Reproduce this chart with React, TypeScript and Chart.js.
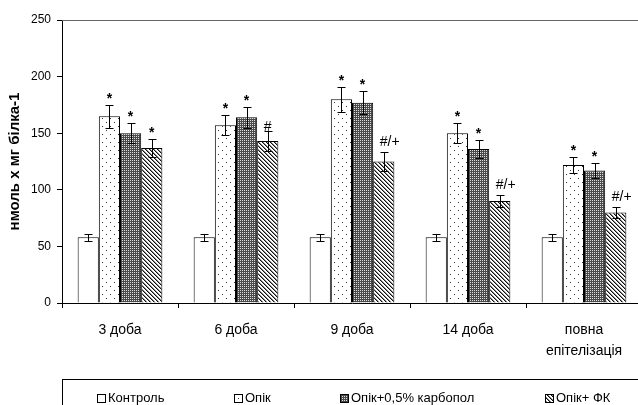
import React, { useEffect, useRef } from 'react';
import { Chart, registerables } from 'chart.js';

Chart.register(...registerables);

// Time points
const CATEGORIES: (string | string[])[] = ['3 доба', '6 доба', '9 доба', '14 доба', ['повна', 'епітелізація']];

// Means, нмоль х мг білка-1
const CONTROL = [58, 58, 58, 58, 58];
const OPIK = [165, 157, 180, 150, 122];
const OPIK_CARBOPOL = [150, 164, 177, 136, 117];
const OPIK_FK = [137, 143, 125, 90, 80];

// Standard errors
const CONTROL_ERR = [3, 3, 3, 3, 3];
const OPIK_ERR = [10, 9, 11, 9, 7];
const OPIK_CARBOPOL_ERR = [9, 9, 10, 8, 7];
const OPIK_FK_ERR = [8, 9, 8, 5, 5];

// Significance marks above the bars
const CONTROL_MARKS = ['', '', '', '', ''];
const OPIK_MARKS = ['*', '*', '*', '*', '*'];
const OPIK_CARBOPOL_MARKS = ['*', '*', '*', '*', '*'];
const OPIK_FK_MARKS = ['*', '#', '#/+', '#/+', '#/+'];

const SERIES_LABELS = ['Контроль', 'Опік', 'Опік+0,5% карбопол', 'Опік+ ФК'];

const Y_TITLE = 'нмоль х мг білка-1';
const Y_MIN = 0;
const Y_MAX = 250;
const Y_STEP = 50;

const FONT = '"Liberation Sans", Arial, sans-serif';

// Legend slot positions inside the framed legend row
const LEGEND_X = [97, 234, 340, 545];
const LEGEND_Y = 398;

const MARK_STYLE: Record<string, { font: string; lift: number; dx: number }> = {
  '*': { font: `bold 14px ${FONT}`, lift: 3, dx: 0 },
  '#': { font: `14px ${FONT}`, lift: 1, dx: 0 },
  '#/+': { font: `14px ${FONT}`, lift: 7, dx: 6 },
};

function tile(w: number, h: number, paint: (g: CanvasRenderingContext2D) => void) {
  const c = document.createElement('canvas');
  c.width = w;
  c.height = h;
  const g = c.getContext('2d')!;
  paint(g);
  return c;
}

export default function App() {
  const canvasRef = useRef<HTMLCanvasElement | null>(null);

  useEffect(() => {
    const canvas = canvasRef.current!;
    const ctx = canvas.getContext('2d')!;

    const dotted = ctx.createPattern(
      tile(8, 8, (g) => {
        g.fillStyle = '#fff';
        g.fillRect(0, 0, 8, 8);
        g.fillStyle = '#333';
        g.fillRect(2, 2, 1, 1);
        g.fillRect(6, 6, 1, 1);
      }),
      'repeat'
    )!;
    const stipple = ctx.createPattern(
      tile(2, 2, (g) => {
        g.fillStyle = '#4a4a4a';
        g.fillRect(0, 0, 2, 2);
        g.fillStyle = '#e0e0e0';
        g.fillRect(0, 0, 1, 1);
      }),
      'repeat'
    )!;
    const hatch = ctx.createPattern(
      tile(4, 4, (g) => {
        g.fillStyle = '#fff';
        g.fillRect(0, 0, 4, 4);
        for (let i = 0; i < 4; i++) {
          g.fillStyle = '#111';
          g.fillRect(i, i, 1, 1);
          g.fillStyle = '#888';
          g.fillRect((i + 1) % 4, i, 1, 1);
        }
      }),
      'repeat'
    )!;

    const fills = ['#ffffff', dotted, stipple, hatch];
    const values = [CONTROL, OPIK, OPIK_CARBOPOL, OPIK_FK];
    const errors = [CONTROL_ERR, OPIK_ERR, OPIK_CARBOPOL_ERR, OPIK_FK_ERR];
    const marks = [CONTROL_MARKS, OPIK_MARKS, OPIK_CARBOPOL_MARKS, OPIK_FK_MARKS];

    const errorBars = {
      id: 'errorBars',
      afterDatasetsDraw(chart: any) {
        const c = chart.ctx;
        const y = chart.scales.y;
        c.save();
        c.strokeStyle = '#000';
        c.lineWidth = 1;
        chart.data.datasets.forEach((ds: any, i: number) => {
          const meta = chart.getDatasetMeta(i);
          meta.data.forEach((el: any, j: number) => {
            const v = values[i][j];
            const e = errors[i][j];
            const x = Math.round(el.x) + 0.5;
            const top = Math.round(y.getPixelForValue(v + e)) + 0.5;
            const bot = Math.round(y.getPixelForValue(v - e)) + 0.5;
            c.beginPath();
            c.moveTo(x, top);
            c.lineTo(x, bot);
            c.moveTo(x - 4, top);
            c.lineTo(x + 4, top);
            c.moveTo(x - 4, bot);
            c.lineTo(x + 4, bot);
            c.stroke();

            const m = marks[i][j];
            if (m) {
              const st = MARK_STYLE[m];
              c.fillStyle = '#000';
              c.font = st.font;
              c.textAlign = 'center';
              c.textBaseline = 'alphabetic';
              c.fillText(m, el.x + st.dx, top - st.lift);
            }
          });
        });
        c.restore();
      },
    };

    const frame = {
      id: 'frame',
      afterDraw(chart: any) {
        const c = chart.ctx;
        const a = chart.chartArea;
        c.save();
        // top edge of the plot
        c.strokeStyle = '#666';
        c.lineWidth = 1;
        c.beginPath();
        c.moveTo(a.left, Math.round(a.top) + 0.5);
        c.lineTo(a.right, Math.round(a.top) + 0.5);
        c.stroke();

        // legend frame
        c.strokeStyle = '#000';
        c.strokeRect(62.5, 379.5, 700, 100);

        c.font = `13px ${FONT}`;
        c.textAlign = 'left';
        c.textBaseline = 'middle';
        chart.data.datasets.forEach((ds: any, i: number) => {
          const bx = LEGEND_X[i];
          const by = LEGEND_Y - 4;
          c.fillStyle = ds.backgroundColor;
          c.fillRect(bx, by, 8, 8);
          c.strokeStyle = '#000';
          c.strokeRect(bx + 0.5, by + 0.5, 8, 8);
          c.fillStyle = '#000';
          c.fillText(ds.label, bx + 11, LEGEND_Y);
        });
        c.restore();
      },
    };

    const chart = new Chart(canvas, {
      type: 'bar',
      data: {
        labels: CATEGORIES as any,
        datasets: SERIES_LABELS.map((label, i) => ({
          label,
          data: values[i],
          backgroundColor: fills[i] as any,
          borderColor: '#000',
          borderWidth: 1,
          categoryPercentage: 0.73,
          barPercentage: 1,
        })),
      },
      options: {
        responsive: false,
        devicePixelRatio: 1,
        animation: false,
        layout: { padding: { top: 20, right: 8, left: 0, bottom: 0 } },
        plugins: {
          legend: { display: false },
          tooltip: { enabled: false },
        },
        scales: {
          x: {
            afterFit: (s: any) => {
              s.height = 102;
            },
            grid: {
              offset: true,
              drawOnChartArea: false,
              drawTicks: true,
              tickLength: 5,
              color: '#000',
            },
            border: { display: true, color: '#000', width: 1 },
            ticks: {
              color: '#000',
              font: { family: FONT, size: 14, lineHeight: 1.55 },
              padding: 11,
              maxRotation: 0,
              autoSkip: false,
            },
          },
          y: {
            min: Y_MIN,
            max: Y_MAX,
            afterFit: (s: any) => {
              s.width = 62;
            },
            grid: {
              drawOnChartArea: false,
              drawTicks: true,
              tickLength: 5,
              color: '#000',
            },
            border: { display: true, color: '#000', width: 1 },
            ticks: {
              stepSize: Y_STEP,
              color: '#000',
              font: { family: FONT, size: 12 },
              padding: 6,
            },
            title: {
              display: true,
              text: Y_TITLE,
              color: '#000',
              font: { family: FONT, size: 15, weight: 'bold' },
              padding: { top: 6, bottom: 0 },
            },
          },
        },
      },
      plugins: [errorBars, frame],
    });

    return () => chart.destroy();
  }, []);

  return (
    <div
      style={{
        position: 'fixed',
        left: 0,
        top: 0,
        width: 638,
        height: 405,
        overflow: 'hidden',
        background: '#fff',
      }}
    >
      <canvas ref={canvasRef} width={650} height={405} style={{ display: 'block', width: 650, height: 405 }} />
    </div>
  );
}
